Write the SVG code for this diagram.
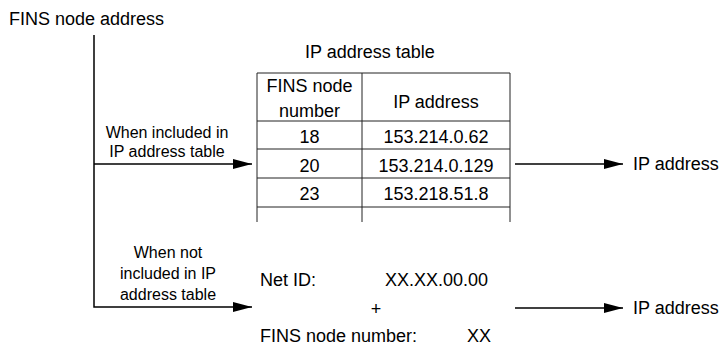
<svg xmlns="http://www.w3.org/2000/svg" width="721" height="347" viewBox="0 0 721 347">
<defs>
<marker id="ah" markerWidth="19" markerHeight="10" refX="19" refY="5" orient="auto" markerUnits="userSpaceOnUse">
<path d="M0,0 L19,5 L0,10 Z" fill="#000"/>
</marker>
<style>
text{font-family:"Liberation Sans",Arial,sans-serif;fill:#000}
.l{font-size:18px}
.s{font-size:16px;text-anchor:middle}
.c{font-size:18px;text-anchor:middle}
.ln{stroke:#000;stroke-width:1.5;fill:none}
.tb{stroke:#222;stroke-width:1;fill:none}
</style>
</defs>
<rect width="721" height="347" fill="#fff"/>
<g id="source"><text class="l" x="9" y="25">FINS node address</text></g>
<g id="table">
<text class="l" x="305" y="58">IP address table</text>
<path class="tb" d="M257,73 H510 M257,121 H510 M257,149 H510 M257,178 H510 M257,207 H510 M257,73 V222 M362,73 V222 M510,73 V222"/>
<text class="c" x="309.5" y="92">FINS node</text>
<text class="c" x="309.5" y="117">number</text>
<text class="c" x="436" y="108">IP address</text>
<text class="c" x="309.5" y="143">18</text>
<text class="c" x="436" y="143">153.214.0.62</text>
<text class="c" x="309.5" y="172">20</text>
<text class="c" x="436" y="172">153.214.0.129</text>
<text class="c" x="309.5" y="200">23</text>
<text class="c" x="436" y="200">153.218.51.8</text>
</g>
<g id="formula">
<text class="l" x="260" y="286">Net ID:</text>
<text class="l" x="385" y="286">XX.XX.00.00</text>
<text class="c" x="376" y="315">+</text>
<text class="l" x="260" y="342">FINS node number:</text>
<text class="l" x="467" y="342">XX</text>
</g>
<g id="out1"><text class="l" x="633" y="170">IP address</text></g>
<g id="out2"><text class="l" x="633" y="314">IP address</text></g>
<g id="connectors">
<path class="ln" d="M94,35 V307 H252" marker-end="url(#ah)"/>
<path class="ln" d="M94,164 H252" marker-end="url(#ah)"/>
<path class="ln" d="M515,164 H623" marker-end="url(#ah)"/>
<path class="ln" d="M515,308 H623" marker-end="url(#ah)"/>
<text class="s" x="167" y="138">When included in</text>
<text class="s" x="167" y="157">IP address table</text>
<text class="s" x="168" y="258">When not</text>
<text class="s" x="168" y="279">included in IP</text>
<text class="s" x="168" y="300">address table</text>
</g>
</svg>
